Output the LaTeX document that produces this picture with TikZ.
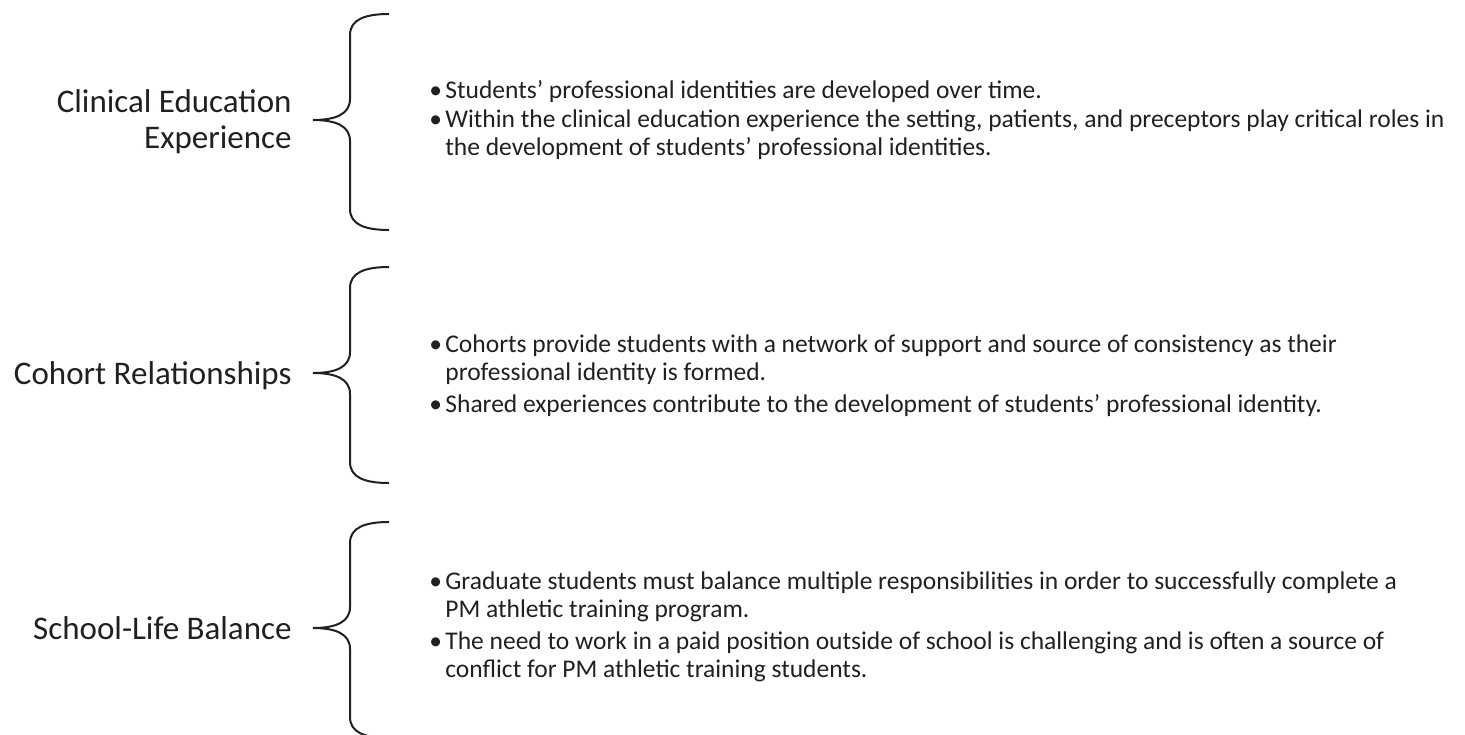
\documentclass[tikz,border=0pt]{standalone}
\usepackage{fontspec}
\setmainfont{Carlito}
\usetikzlibrary{positioning}
\definecolor{ink}{HTML}{231F20}

\begin{document}
\begin{tikzpicture}[x=0.5pt, y=-0.5pt,
    brace/.style={draw=ink, line width=1pt},
    theme/.style={anchor=base east, align=right, inner sep=0pt, text=ink,
                  font=\fontsize{16.5}{18}\selectfont},
    dot/.style={anchor=base west, inner sep=0pt, text=ink, font=\fontsize{12.75}{14}\selectfont},
    point/.style={anchor=base west, align=left, inner sep=0pt, text=ink,
                  font=\fontsize{12.75}{14}\selectfont}]
    \useasboundingbox (0,0) rectangle (1465,734);

    % themes (base = last line)
    \node[theme] (clin) at (292,148) {Clinical Education\\Experience};
    \node[theme] (coh) at (292,384) {Cohort Relationships};
    \node[theme] (sch) at (292,639) {School-Life Balance};

    % braces: tip height
    \foreach \m in {120, 373, 628}{
        \draw[brace] (389,\m-106) .. controls (364,\m-106) and (350,\m-100) .. (350,\m-85)
            -- (350,\m-21) .. controls (350,\m-6) and (336,\m) .. (313,\m)
            .. controls (336,\m) and (350,\m+6) .. (350,\m+21)
            -- (350,\m+89) .. controls (350,\m+104) and (364,\m+110) .. (389,\m+110);
    }

    % clinical education
    \node[dot] (b1) at (429,98) {•};
    \node[point] (p1) at (445,98) {Students’ professional identities are developed over time.};
    \node[dot] (b2) at (429,127) {•};
    \node[point] (p2) at (445,155) {Within the clinical education experience the setting, patients, and preceptors play critical roles in\\
        the development of students’ professional identities.};

    % cohort
    \node[dot] (b3) at (429,352) {•};
    \node[point] (p3) at (445,380) {Cohorts provide students with a network of support and source of consistency as their\\
        professional identity is formed.};
    \node[dot] (b4) at (429,412) {•};
    \node[point] (p4) at (445,412) {Shared experiences contribute to the development of students’ professional identity.};

    % school-life
    \node[dot] (b5) at (429,589) {•};
    \node[point] (p5) at (445,617) {Graduate students must balance multiple responsibilities in order to successfully complete a\\
        PM athletic training program.};
    \node[dot] (b6) at (429,649) {•};
    \node[point] (p6) at (445,677) {The need to work in a paid position outside of school is challenging and is often a source of\\
        conflict for PM athletic training students.};
\end{tikzpicture}
\end{document}
